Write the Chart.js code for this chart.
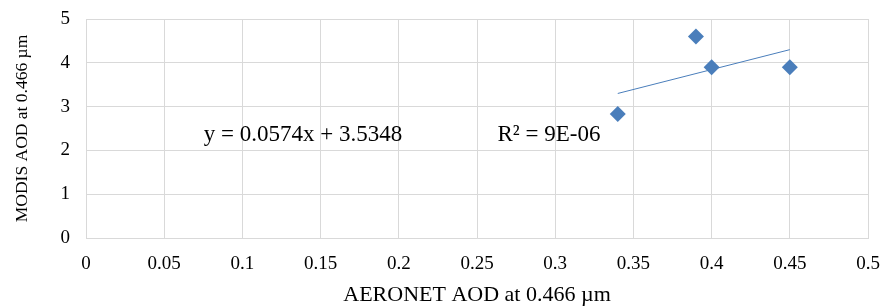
<!DOCTYPE html>
<html>
<head>
<meta charset="utf-8">
<script src="https://cdn.jsdelivr.net/npm/chart.js@4/dist/chart.umd.min.js"></script>
<style>
  html, body { margin: 0; padding: 0; background: #fff; }
  #wrap { width: 883px; height: 306px; }
</style>
</head>
<body>
<div id="wrap"><canvas id="chart" width="883" height="306"></canvas></div>
<script>
// Values
const aeronetAod = [0.34, 0.39, 0.40, 0.45];
const modisAod = [2.83, 4.6, 3.9, 3.9];
const trendX = [0.34, 0.45];
const trendY = [3.3, 4.3];
const xTicks = [0, 0.05, 0.1, 0.15, 0.2, 0.25, 0.3, 0.35, 0.4, 0.45, 0.5];
const yTicks = [0, 1, 2, 3, 4, 5];
const equationText = 'y = 0.0574x + 3.5348';
const rSquaredText = 'R\u00b2 = 9E-06';
const equationPos = [0.1387, 2.36];
const rSquaredPos = [0.296, 2.36];

const blue = '#4a7ebb';
const serif = '"Liberation Serif", "Times New Roman", serif';

const points = aeronetAod.map((x, i) => ({ x: x, y: modisAod[i] }));
const trend = trendX.map((x, i) => ({ x: x, y: trendY[i] }));

// Writes the trendline labels at data positions
const trendLabels = {
    id: 'trendLabels',
    afterDatasetsDraw(chart) {
        const ctx = chart.ctx;
        const xs = chart.scales.x;
        const ys = chart.scales.y;
        ctx.save();
        ctx.font = '23px ' + serif;
        ctx.fillStyle = '#000';
        ctx.textAlign = 'center';
        ctx.textBaseline = 'middle';
        ctx.fillText(equationText, xs.getPixelForValue(equationPos[0]), ys.getPixelForValue(equationPos[1]));
        ctx.fillText(rSquaredText, xs.getPixelForValue(rSquaredPos[0]), ys.getPixelForValue(rSquaredPos[1]));
        ctx.restore();
    },
};

new Chart(document.getElementById('chart'), {
    type: 'scatter',
    data: {
        datasets: [
            {
                label: 'MODIS AOD',
                data: points,
                pointStyle: 'rectRot',
                pointRadius: 8,
                pointHoverRadius: 8,
                backgroundColor: blue,
                borderColor: blue,
                borderWidth: 0,
            },
            {
                label: 'Linear trend',
                type: 'line',
                data: trend,
                borderColor: blue,
                borderWidth: 1,
                pointRadius: 0,
                fill: false,
            },
        ],
    },
    options: {
        responsive: false,
        animation: false,
        devicePixelRatio: 1,
        layout: { padding: { left: 0, right: 15, top: 19, bottom: 0 } },
        plugins: {
            legend: { display: false },
            tooltip: { enabled: false },
        },
        scales: {
            x: {
                type: 'linear',
                min: 0,
                max: 0.5,
                afterBuildTicks: (axis) => { axis.ticks = xTicks.map((v) => ({ value: v })); },
                afterFit: (axis) => {
                    axis.height = 68;
                    axis.paddingLeft = 0;
                    axis.paddingRight = 0;
                },
                grid: { color: '#d9d9d9', drawTicks: false },
                border: { color: '#d9d9d9' },
                ticks: {
                    color: '#000',
                    padding: 15,
                    maxRotation: 0,
                    font: { family: serif, size: 19 },
                    callback: (v) => String(v),
                },
                title: {
                    display: true,
                    text: 'AERONET AOD at 0.466 \u00b5m',
                    color: '#000',
                    font: { family: serif, size: 22 },
                    padding: { top: 0, bottom: -2 },
                },
            },
            y: {
                min: 0,
                max: 5,
                afterBuildTicks: (axis) => { axis.ticks = yTicks.map((v) => ({ value: v })); },
                afterFit: (axis) => {
                    axis.width = 86;
                    axis.paddingTop = 0;
                    axis.paddingBottom = 0;
                },
                grid: { color: '#d9d9d9', drawTicks: false },
                border: { color: '#d9d9d9' },
                ticks: {
                    color: '#000',
                    padding: 16,
                    font: { family: serif, size: 19 },
                },
                title: {
                    display: true,
                    text: 'MODIS AOD at 0.466 \u00b5m',
                    color: '#000',
                    font: { family: serif, size: 17.5 },
                    padding: { top: 12, bottom: 0 },
                },
            },
        },
    },
    plugins: [trendLabels],
});
</script>
</body>
</html>
